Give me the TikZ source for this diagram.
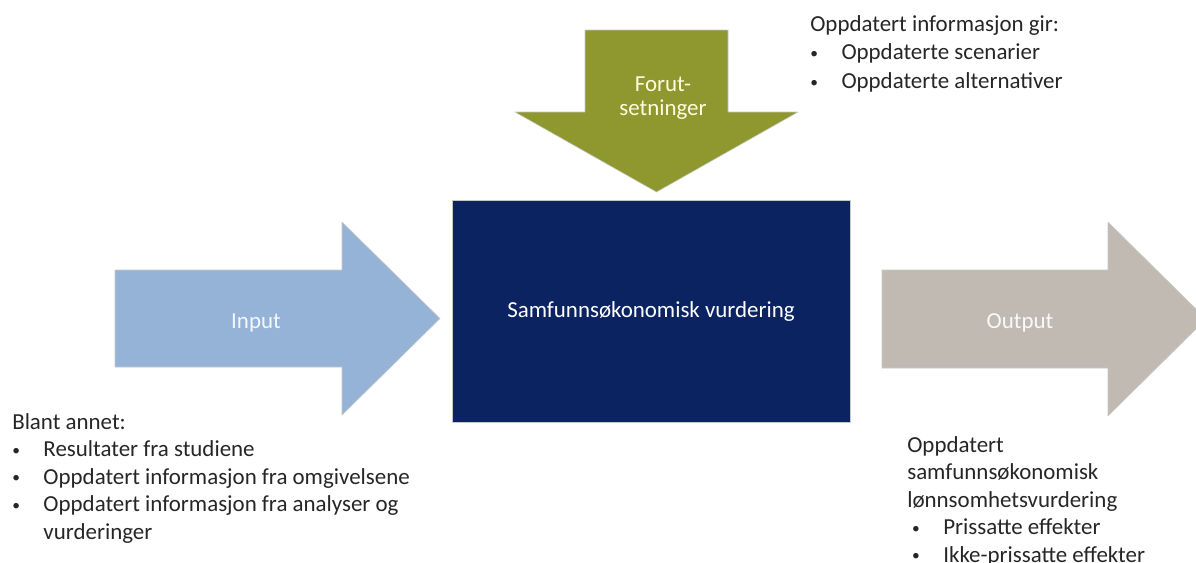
\documentclass[tikz,border=0pt]{standalone}
\usepackage{fontspec}
\setmainfont{Carlito}
\usetikzlibrary{positioning}
\definecolor{inblue}{RGB}{149,179,215}
\definecolor{forutgreen}{RGB}{142,152,46}
\definecolor{samnavy}{RGB}{12,35,98}
\definecolor{outgrey}{RGB}{193,186,178}
\newcommand{\bpt}[1]{\makebox[0.78cm][l]{\raisebox{0.04cm}{\fontsize{11}{11}\selectfont\textbullet}}#1}
\begin{document}
\begin{tikzpicture}[x=0.025cm,y=-0.025cm,line join=round,font=\fontsize{16.3}{19.6}\selectfont,
	blk/.style={draw=black!22,line width=0.4pt},
	lbl/.style={text=white,align=center,inner sep=0pt},
	txt/.style={anchor=north west,align=left,inner sep=0pt,text=black!85}]
	\useasboundingbox (0,0) rectangle (1196,562);
	\clip (0,0) rectangle (1196,562);
	\path[blk,fill=inblue] (115,270)--(342,270)--(342,222)--(440,318.5)--(342,415)--(342,367)--(115,367)--cycle;
	\path[blk,fill=forutgreen] (585,30)--(728,30)--(728,112)--(798,112)--(656.5,192)--(515,112)--(585,112)--cycle;
	\path[blk,fill=outgrey] (882,270)--(1108,270)--(1108,222)--(1206,319)--(1108,416)--(1108,368)--(882,368)--cycle;
	\node[blk,fill=samnavy,text=white,minimum width=9.95cm,minimum height=5.55cm] (vurd) at (651,311) {\raisebox{-0.16cm}[0pt][0pt]{Samfunnsøkonomisk vurdering}};
	\node[lbl,text=white!90!inblue] (input) at (256,323) {Input};
	\node[lbl,text=white!88!yellow] (forut) at (663,98) {Forut-\\[-0.1cm]setninger};
	\node[lbl,text=white!92!outgrey] (output) at (1020,323) {Output};
	\node[txt] (gir) at (810,15) {Oppdatert informasjon gir:\\[0.03cm] \bpt{Oppdaterte scenarier}\\[0.03cm] \bpt{Oppdaterte alternativer}};
	\node[txt] (blant) at (12,413) {Blant annet:\\ \bpt{Resultater fra studiene}\\ \bpt{Oppdatert informasjon fra omgivelsene}\\ \bpt{Oppdatert informasjon fra analyser og}\\ \hspace*{0.78cm}vurderinger};
	\node[txt] (lonn) at (907,436) {Oppdatert\\ samfunnsøkonomisk\\ lønnsomhetsvurdering\\ \hspace*{0.12cm}\bpt{Prissatte effekter}\\ \hspace*{0.12cm}\bpt{Ikke-prissatte effekter}};
\end{tikzpicture}
\end{document}
